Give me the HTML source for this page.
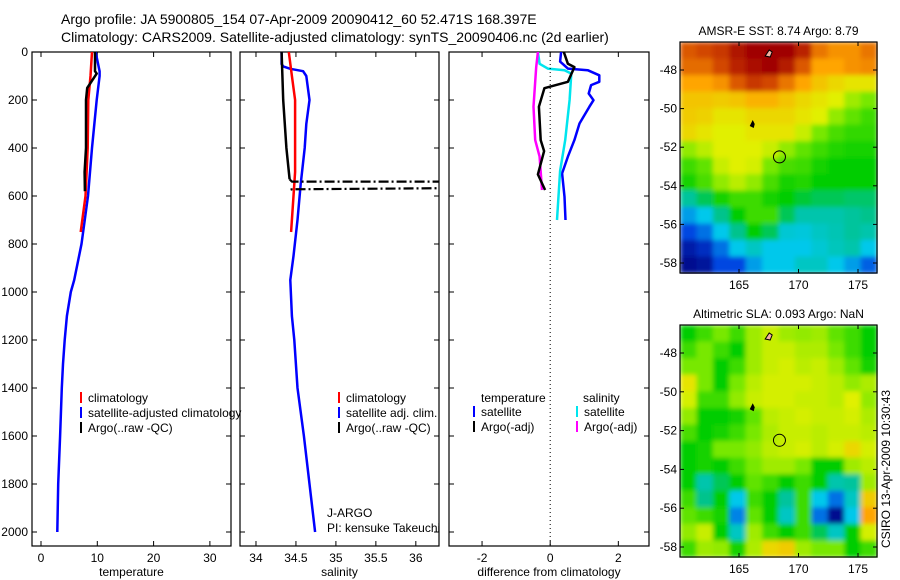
<!DOCTYPE html>
<html><head><meta charset="utf-8"><style>
body{margin:0;background:#fff;}
svg{display:block;font-family:"Liberation Sans",sans-serif;}
</style></head><body>
<svg id="fig" width="900" height="580" viewBox="0 0 900 580">
<defs>
<filter id="smooth" x="0" y="0" width="1" height="1"><feGaussianBlur stdDeviation="2.5" edgeMode="duplicate"/></filter>
</defs>
<text x="61" y="24" font-size="14">Argo profile: JA 5900805_154 07-Apr-2009 20090412_60 52.471S 168.397E</text>
<text x="61" y="42" font-size="14">Climatology: CARS2009. Satellite-adjusted climatology: synTS_20090406.nc (2d earlier)</text>
</svg>
<script>
// ---- data ----
const tempClimDepth=[0,100,200,400,600,750];
const tempClimVal=[9.06,8.8,8.4,8.3,7.9,7.05];
const tempArgoDepth=[0,80,90,150,200,300,400,500,580];
const tempArgoVal=[9.6,9.6,9.9,8.2,8.0,8.0,8.0,7.75,7.8];
const tempSatDepth=[0,80,100,200,400,600,800,950,1000,1100,1200,1300,1400,1600,1800,2000];
const tempSatVal=[9.7,10.4,10.4,9.9,9.06,8.35,7.2,5.9,5.3,4.6,4.2,3.9,3.7,3.4,3.06,2.9];
const salClimDepth=[0,100,200,500,600,750];
const salClimVal=[34.41,34.45,34.49,34.49,34.47,34.44];
const salArgoDepth=[0,100,200,300,400,530];
const salArgoVal=[34.32,34.33,34.34,34.36,34.38,34.42];
const salSpikeDepth=[530,540,540,567,572,575];
const salSpikeVal=[34.42,34.45,36.5,36.5,34.45,34.42];
const salSatDepth=[0,50,60,70,80,100,200,300,400,550,700,850,950,1100,1200,1400,1600,1800,2000];
const salSatVal=[34.32,34.32,34.34,34.43,34.59,34.63,34.67,34.63,34.61,34.56,34.52,34.47,34.43,34.45,34.48,34.52,34.6,34.67,34.74];
const dTempArgoDepth=[0,49,63,124,151,228,367,413,510,575];
const dTempArgoVal=[0.4,0.52,0.71,0.52,-0.17,-0.33,-0.28,-0.18,-0.36,-0.15];
const dSalArgoDepth=[0,63,228,367,436,575];
const dSalArgoVal=[-0.36,-0.41,-0.49,-0.44,-0.31,-0.24];
const dSalSatDepth=[0,49,69,76,90,200,367,496,700];
const dSalSatVal=[-0.36,-0.31,-0.07,0.42,0.62,0.57,0.44,0.29,0.2];
const dTempSatDepth=[0,40,69,76,97,124,138,173,201,228,298,367,436,506,603,700];
const dTempSatVal=[0.32,0.29,0.52,1.1,1.44,1.44,1.2,1.13,1.27,1.15,0.86,0.71,0.52,0.35,0.42,0.45];
const depthTicks=[0,200,400,600,800,1000,1200,1400,1600,1800,2000];
const tempTicks=[0,10,20,30];
const salTicks=[34,34.5,35,35.5,36];
const diffTicks=[-2,0,2];
const latTicks=[-48,-50,-52,-54,-56,-58];
const lonTicks=[165,170,175];
const sstGrid=[
[0.88,0.9,0.92,0.97,1,1,1,0.95,0.85,0.82,0.82,0.85],
[0.86,0.86,0.9,0.95,0.98,1,0.96,0.88,0.8,0.8,0.82,0.83],
[0.8,0.8,0.82,0.88,0.92,0.9,0.85,0.8,0.75,0.72,0.7,0.7],
[0.75,0.75,0.74,0.75,0.78,0.78,0.75,0.72,0.7,0.68,0.63,0.6],
[0.74,0.73,0.7,0.7,0.72,0.72,0.72,0.7,0.68,0.62,0.58,0.55],
[0.72,0.7,0.68,0.68,0.7,0.7,0.7,0.66,0.6,0.56,0.54,0.54],
[0.62,0.65,0.68,0.68,0.68,0.66,0.62,0.58,0.55,0.53,0.52,0.52],
[0.55,0.58,0.66,0.68,0.67,0.6,0.56,0.55,0.52,0.5,0.5,0.5],
[0.52,0.56,0.62,0.65,0.62,0.56,0.52,0.53,0.5,0.5,0.5,0.5],
[0.4,0.45,0.52,0.55,0.55,0.52,0.5,0.47,0.45,0.45,0.44,0.44],
[0.25,0.3,0.42,0.5,0.55,0.55,0.45,0.38,0.38,0.38,0.4,0.42],
[0.15,0.2,0.3,0.42,0.5,0.45,0.33,0.32,0.35,0.37,0.4,0.38],
[0.06,0.1,0.2,0.3,0.35,0.3,0.3,0.3,0.33,0.36,0.38,0.3],
[0.02,0.04,0.15,0.15,0.25,0.3,0.3,0.35,0.35,0.3,0.25,0.18]];
const slaGrid=[
[0.5,0.55,0.6,0.55,0.63,0.66,0.63,0.62,0.63,0.58,0.55,0.5],
[0.55,0.6,0.55,0.5,0.63,0.66,0.66,0.64,0.64,0.6,0.55,0.5],
[0.6,0.6,0.5,0.55,0.63,0.66,0.67,0.65,0.66,0.63,0.58,0.52],
[0.7,0.6,0.5,0.6,0.65,0.67,0.67,0.67,0.66,0.65,0.62,0.64],
[0.67,0.55,0.55,0.62,0.66,0.67,0.67,0.66,0.66,0.65,0.68,0.62],
[0.62,0.5,0.5,0.52,0.58,0.65,0.66,0.67,0.66,0.66,0.67,0.64],
[0.56,0.5,0.52,0.55,0.6,0.64,0.66,0.66,0.65,0.66,0.66,0.65],
[0.5,0.52,0.6,0.6,0.62,0.65,0.66,0.67,0.65,0.67,0.72,0.67],
[0.5,0.52,0.5,0.55,0.6,0.63,0.63,0.6,0.5,0.5,0.63,0.65],
[0.5,0.38,0.45,0.5,0.58,0.55,0.5,0.55,0.5,0.38,0.4,0.63],
[0.55,0.42,0.5,0.3,0.55,0.5,0.4,0.55,0.3,0.2,0.35,0.74],
[0.58,0.55,0.52,0.22,0.58,0.5,0.35,0.55,0.2,0.02,0.3,0.8],
[0.62,0.66,0.5,0.35,0.63,0.55,0.5,0.55,0.45,0.35,0.5,0.67],
[0.55,0.63,0.62,0.52,0.64,0.72,0.74,0.63,0.6,0.6,0.5,0.55]];
const floatLon=168.4, floatLat=-52.5;

const NS="http://www.w3.org/2000/svg";
const svg=document.getElementById('fig');
function mk(tag,attrs,parent){const e=document.createElementNS(NS,tag);for(const k in attrs)e.setAttribute(k,attrs[k]);(parent||svg).appendChild(e);return e;}
const PT=52,PB=546;
const yD=d=>PT+d*0.24;

function panel(name,x0,x1,vmin,vmax,xticks,label,showY){
  const g=mk('g',{});
  
  
  const sx=v=>x0+(v-vmin)/(vmax-vmin)*(x1-x0);
  const cid='clip-'+name;
  const cp=mk('clipPath',{id:cid},g);mk('rect',{x:x0,y:PT,width:x1-x0,height:PB-PT},cp);
  const fr=mk('rect',{x:x0,y:PT,width:x1-x0,height:PB-PT,fill:'none',stroke:'#000','stroke-width':1.2},g);
  
  
  xticks.forEach(t=>{const x=sx(t);
    mk('line',{x1:x,x2:x,y1:PT,y2:PT+5,stroke:'#000'},g);
    mk('line',{x1:x,x2:x,y1:PB,y2:PB-5,stroke:'#000'},g);
    const tl=mk('text',{x:x,y:PB+16,'font-size':12,'text-anchor':'middle'},g);tl.textContent=t;
    
    
  });
  depthTicks.forEach(d=>{const y=yD(d);
    mk('line',{x1:x0,x2:x0+5,y1:y,y2:y,stroke:'#000'},g);
    mk('line',{x1:x1,x2:x1-5,y1:y,y2:y,stroke:'#000'},g);
    if(showY){const tl=mk('text',{x:x0-4,y:y+4,'font-size':12,'text-anchor':'end'},g);tl.textContent=d;
      
      }
  });
  const xl=mk('text',{x:(x0+x1)/2,y:576,'font-size':12,'text-anchor':'middle'},g);xl.textContent=label;
  
  
  const lg=mk('g',{'clip-path':'url(#'+cid+')'},g);
  return {g,lg,sx};
}
function line(p,depths,vals,color,nm,dash){
  const pts=depths.map((d,i)=>p.sx(vals[i]).toFixed(1)+','+yD(d).toFixed(1)).join(' ');
  const a={points:pts,fill:'none',stroke:color,'stroke-width':2.5,'stroke-linejoin':'round'};
  if(dash){a['stroke-dasharray']=dash;a['stroke-width']=2.2;}
  const l=mk('polyline',a,p.lg);
  
  
}
function legend(x,y,items){
  items.forEach((it,i)=>{
    mk('rect',{x:x,y:y+i*15-10,width:2,height:11,fill:it[1]});
    const t=mk('text',{x:x+8,y:y+i*15,'font-size':12});t.textContent=it[0];
    
    
  });
}
function txt(x,y,s,nm,extra){const t=mk('text',Object.assign({x:x,y:y,'font-size':12},extra||{}));t.textContent=s;
  
  return t;}

const p1=panel('temperature',32,231,-1.6,33.75,tempTicks,'temperature',true);
line(p1,tempSatDepth,tempSatVal,'#0000ff','temp-satellite-line');
line(p1,tempClimDepth,tempClimVal,'#ff0000','temp-climatology-line');
line(p1,tempArgoDepth,tempArgoVal,'#000','temp-argo-line');
legend(80,402,[['climatology','#ff0000'],['satellite-adjusted climatology','#0000ff'],['Argo(..raw -QC)','#000']]);

const p2=panel('salinity',240,439,33.8,36.29,salTicks,'salinity',false);
line(p2,salSatDepth,salSatVal,'#0000ff','sal-satellite-line');
line(p2,salClimDepth,salClimVal,'#ff0000','sal-climatology-line');
line(p2,salArgoDepth,salArgoVal,'#000','sal-argo-line');
line(p2,salSpikeDepth,salSpikeVal,'#000','sal-argo-spike-line','10,3,2,3');
legend(338,402,[['climatology','#ff0000'],['satellite adj. clim.','#0000ff'],['Argo(..raw -QC)','#000']]);
txt(327,517,'J-ARGO','float-program');
txt(327,532,'PI: kensuke Takeuchi','float-pi');

const p3=panel('difference',449,649,-2.97,2.9,diffTicks,'difference from climatology',false);
const zx=p3.sx(0);
const zl=mk('line',{x1:zx,x2:zx,y1:PT,y2:PB,stroke:'#000','stroke-dasharray':'1,3'},p3.g);


line(p3,dTempSatDepth,dTempSatVal,'#0000ff','diff-temp-satellite-line');
line(p3,dSalSatDepth,dSalSatVal,'#00e5ee','diff-sal-satellite-line');
line(p3,dSalArgoDepth,dSalArgoVal,'#ff00ff','diff-sal-argo-line');
line(p3,dTempArgoDepth,dTempArgoVal,'#000','diff-temp-argo-line');
txt(481,402,'temperature','legend-temperature-header');
txt(583,402,'salinity','legend-salinity-header');
legend(473,416,[['satellite','#0000ff'],['Argo(-adj)','#000']]);
legend(576,416,[['satellite','#00e5ee'],['Argo(-adj)','#ff00ff']]);

// ---- maps ----
const cstops=[[0,[0,0,130]],[0.15,[0,70,225]],[0.3,[0,200,235]],[0.42,[0,195,140]],[0.5,[0,205,0]],[0.6,[120,232,0]],[0.68,[225,240,0]],[0.8,[255,165,0]],[0.9,[210,70,0]],[1,[160,0,0]]];
function cmap(v){v=Math.max(0,Math.min(1,v));for(let i=1;i<cstops.length;i++){if(v<=cstops[i][0]){const a=cstops[i-1],b=cstops[i];const f=(v-a[0])/(b[0]-a[0]);return 'rgb('+a[1].map((c,j)=>Math.round(c+(b[1][j]-c)*f)).join(',')+')';}}return 'rgb(160,0,0)';}
function map(name,title,grid,top,bottom){
  const x0=680,x1=877;
  const g=mk('g',{});
  
  
  const lon=v=>739+(v-165)*11.9;
  const lat=v=>top+28+(-48-v)*((bottom-top-38)/10);
  const rows=grid.length,cols=grid[0].length;
  const cw=(x1-x0)/cols,ch=(bottom-top)/rows;
  const cg=mk('g',{filter:'url(#smooth)'},g);
  grid.forEach((r,i)=>r.forEach((v,j)=>{
    const c=mk('rect',{x:x0+j*cw,y:top+i*ch,width:cw+0.6,height:ch+0.6,fill:cmap(v)},cg);
    
    
  }));
  mk('path',{d:`M${lon(167.2)},${top+14} l4,-6 l3,2 l-2,5 z`,fill:'#f4b0a0',stroke:'#000'},g);
  mk('path',{d:`M${lon(165.9)},${lat(-50.9)} l3,-6 l2,4 l-1,4 z`,fill:'#000'},g);
  const ci=mk('circle',{cx:lon(floatLon),cy:lat(floatLat),r:6,fill:'none',stroke:'#000'},g);
  
  
  mk('rect',{x:x0,y:top,width:x1-x0,height:bottom-top,fill:'none',stroke:'#000','stroke-width':1.2},g);
  latTicks.forEach(t=>{const y=lat(t);
    mk('line',{x1:x0,x2:x0+4,y1:y,y2:y,stroke:'#000'},g);mk('line',{x1:x1,x2:x1-4,y1:y,y2:y,stroke:'#000'},g);
    const tl=mk('text',{x:x0-3,y:y+4,'font-size':12,'text-anchor':'end'},g);tl.textContent=t;
    
    });
  lonTicks.forEach(t=>{const x=lon(t);
    mk('line',{x1:x,x2:x,y1:top,y2:top+4,stroke:'#000'},g);mk('line',{x1:x,x2:x,y1:bottom,y2:bottom-4,stroke:'#000'},g);
    const tl=mk('text',{x:x,y:bottom+16,'font-size':12,'text-anchor':'middle'},g);tl.textContent=t;
    
    });
  const tt=mk('text',{x:(x0+x1)/2,y:top-7,'font-size':12,'text-anchor':'middle'},g);tt.textContent=title;
  
  
}
map('sst','AMSR-E SST: 8.74 Argo: 8.79',sstGrid,42,273);
map('sla','Altimetric SLA: 0.093 Argo: NaN',slaGrid,325,557);
txt(0,0,'CSIRO 13-Apr-2009 10:30:43','timestamp',{transform:'translate(890,548) rotate(-90)'});
</script>
</body></html>
